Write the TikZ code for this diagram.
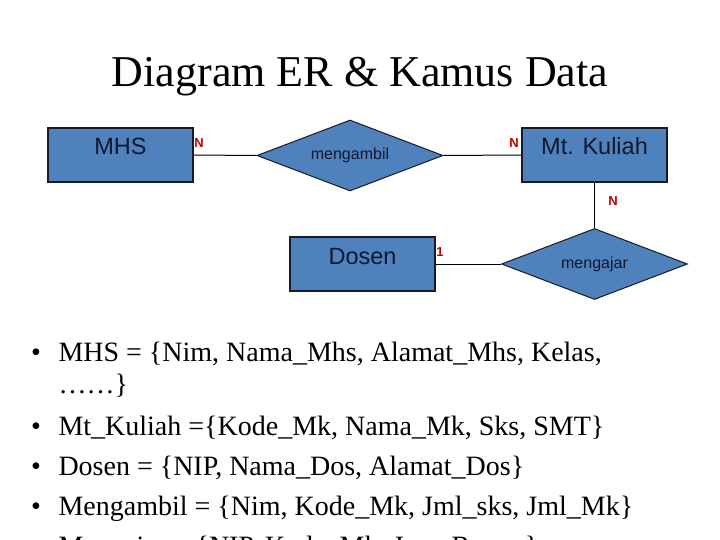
\documentclass[tikz,border=0pt]{standalone}
\usepackage{fontspec}
\setmainfont{Liberation Serif}
\newfontfamily\arialfont{Liberation Sans}
\usetikzlibrary{shapes.geometric}
\definecolor{erblue}{RGB}{79,129,189}
\definecolor{erline}{RGB}{25,25,40}
\definecolor{ertext}{RGB}{16,24,48}
\definecolor{cardred}{RGB}{192,0,0}

\begin{document}
\begin{tikzpicture}[x=1pt,y=-1pt,line width=1pt,
  entity/.style={draw=erline,fill=erblue,line width=1.2pt,minimum width=145pt,minimum height=54pt,inner sep=0pt,text height=8pt,text depth=8pt,text=ertext,font=\arialfont\fontsize{23.5}{28}\selectfont},
  relation/.style={diamond,draw=erline,fill=erblue,line width=1pt,minimum width=186pt,minimum height=71pt,aspect=2.6,inner sep=0pt,text=ertext,font=\arialfont\fontsize{16}{19}\selectfont},
  card/.style={text=cardred,inner sep=0pt,font=\arialfont\bfseries\fontsize{13}{15}\selectfont},
  dictline/.style={anchor=base west,inner sep=0pt,font=\fontsize{28}{34}\selectfont},
  bulletmark/.style={anchor=base,inner sep=0pt,font=\fontsize{28}{34}\selectfont}]
\clip (0,0) rectangle (720,540);
\node[anchor=base,inner sep=0pt,font=\fontsize{44}{52}\selectfont] (title) at (360,87) {Diagram ER \& Kamus Data};
\node[entity] (mhs) at (120.5,155) {MHS};
\node[relation] (mengambil) at (350,155.5) {mengambil};
\node[entity] (mtkuliah) at (594.5,155) {Mt. Kuliah};
\node[entity] (dosen) at (362.5,264) {Dosen};
\node[relation] (mengajar) at (594.5,264) {mengajar};
\draw (mhs.east) -- (mengambil.west);
\draw (mengambil.east) -- (mtkuliah.west);
\draw (mtkuliah.south) -- (mengajar.north);
\draw (dosen.east) -- (mengajar.west);
\node[card] (cardmhs) at (199,143) {N};
\node[card] (cardmtk) at (514,143) {N};
\node[card] (cardmtk2) at (613,201) {N};
\node[card] (carddosen) at (440,252) {1};
\node[bulletmark] (b1) at (36,361) {•};
\node[dictline] (d1) at (58,361) {MHS = \{Nim, Nama\_Mhs, Alamat\_Mhs, Kelas,};
\node[dictline] (d1b) at (58,393) {……\}};
\node[bulletmark] (b2) at (36,435) {•};
\node[dictline] (d2) at (58,435) {Mt\_Kuliah =\{Kode\_Mk, Nama\_Mk, Sks, SMT\}};
\node[bulletmark] (b3) at (36,475) {•};
\node[dictline] (d3) at (58,475) {Dosen = \{NIP, Nama\_Dos, Alamat\_Dos\}};
\node[bulletmark] (b4) at (36,515) {•};
\node[dictline] (d4) at (58,515) {Mengambil = \{Nim, Kode\_Mk, Jml\_sks, Jml\_Mk\}};
\node[bulletmark] (b5) at (36,555) {•};
\node[dictline] (d5) at (58,555) {Mengajar = \{NIP, Kode\_Mk, Jam, Ruang\}};
\end{tikzpicture}
\end{document}
